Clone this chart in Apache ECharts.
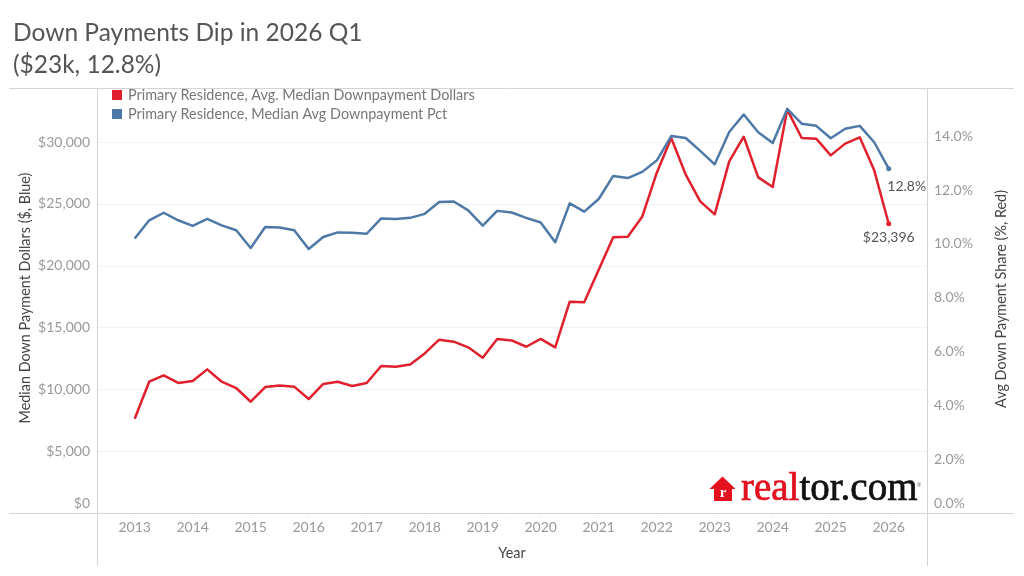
<!DOCTYPE html>
<html>
<head>
<meta charset="utf-8">
<style>html,body{margin:0;padding:0;background:#fff}#chart{width:1024px;height:576px}</style>
<script src="https://cdn.jsdelivr.net/npm/echarts@6/dist/echarts.min.js"></script>
</head>
<body>
<div id="chart"></div>
<script>
// Quarterly series, 2013 Q1 through 2026 Q1
const firstYear = 2013;
const tickYears = [2013, 2014, 2015, 2016, 2017, 2018, 2019, 2020, 2021, 2022, 2023, 2024, 2025, 2026];
const dollars = [
  7630, 10620, 11130, 10520,
  10680, 11620, 10620, 10110,
  9000, 10190, 10320, 10220,
  9220, 10440, 10620, 10270,
  10520, 11890, 11840, 12020,
  12910, 14020, 13860, 13400,
  12560, 14080, 13960, 13450,
  14080, 13400, 17090, 17040,
  19680, 22300, 22350, 23970,
  27510, 30340, 27370, 25210,
  24160, 28440, 30440, 27150,
  26370, 32630, 30340, 30280,
  28930, 29880, 30390, 27720,
  23396
];
const shares = [
  10.20, 10.88, 11.16, 10.88,
  10.67, 10.93, 10.69, 10.51,
  9.85, 10.63, 10.61, 10.51,
  9.81, 10.26, 10.43, 10.42,
  10.38, 10.95, 10.93, 10.97,
  11.12, 11.56, 11.58, 11.25,
  10.68, 11.23, 11.17, 10.97,
  10.80, 10.06, 11.51, 11.20,
  11.67, 12.53, 12.45, 12.68,
  13.10, 14.01, 13.94, 13.46,
  12.96, 14.16, 14.81, 14.15,
  13.75, 15.02, 14.47, 14.39,
  13.93, 14.28, 14.39, 13.78,
  12.8
];
const dollarsName = 'Primary Residence, Avg. Median Downpayment Dollars';
const sharesName = 'Primary Residence, Median Avg Downpayment Pct';
const titleText = 'Down Payments Dip in 2026 Q1\n($23k, 12.8%)';

const FONT = 'Lato';
const RED = '#e0202c';
const BLUE = '#4e79a7';
const TICK = '#999999';
const DARK = '#555555';
const AXIS_NAME = '#444444';
const FRAME = '#d4d4d4';
const LOGO_RED = '#e3101e';
const LOGO_INK = '#111111';

// Turns a series into [year position, value] pairs, marking and labelling its last point
function toPoints(values, color, labelText, labelOpts) {
  return values.map((v, i) => {
    const point = { value: [firstYear + i / 4, v] };
    if (i === values.length - 1) {
      point.symbol = 'circle';
      point.symbolSize = 5;
      point.label = Object.assign({
        show: true, formatter: labelText, color: DARK, fontFamily: FONT, fontSize: 14
      }, labelOpts);
    }
    return point;
  });
}

function lineSeries(name, color, yAxisIndex, data) {
  return {
    name, type: 'line', yAxisIndex, data, symbol: 'none', showSymbol: true, showAllSymbol: true,
    animation: false, silent: true,
    lineStyle: { color, width: 2.5, join: 'round' },
    itemStyle: { color }
  };
}

// The zero label sits clear above the baseline rule
const tickLabel = format => ({
  showMaxLabel: false, verticalAlignMinLabel: 'bottom', margin: 7,
  formatter: v => (v === 0 ? '{zero|' + format(v) + '}' : format(v)),
  rich: { zero: { fontFamily: FONT, fontSize: 14, color: TICK, padding: [0, 0, 3, 0] } },
  fontFamily: FONT, fontSize: 14, color: TICK
});

const valueAxisBase = {
  type: 'value', min: 0, nameLocation: 'middle', nameMoveOverlap: false,
  axisLine: { show: false }, axisTick: { show: false }
};

const frameLine = (x1, y1, x2, y2) => ({
  type: 'line', silent: true, z: 10,
  shape: { x1, y1, x2, y2 }, style: { stroke: FRAME, lineWidth: 1 }
});

const chart = echarts.init(document.getElementById('chart'), null, { renderer: 'canvas' });
chart.setOption({
  animation: false,
  backgroundColor: '#ffffff',
  title: {
    text: titleText, left: 8, top: 12,
    textStyle: { fontFamily: FONT, fontSize: 24.5, fontWeight: 400, color: '#555555', lineHeight: 32 }
  },
  legend: {
    orient: 'vertical', left: 107, top: 83, itemWidth: 10, itemHeight: 10, itemGap: 5,
    icon: 'rect', selectedMode: false,
    data: [dollarsName, sharesName],
    textStyle: { fontFamily: FONT, fontSize: 14.4, color: '#777777', padding: [0, 0, 0, 1] }
  },
  grid: { left: 97, top: 89, width: 830, height: 424, containLabel: false },
  xAxis: {
    type: 'value', min: 2012.35, max: 2026.66,
    name: 'Year', nameLocation: 'middle', nameGap: 33,
    nameTextStyle: { fontFamily: FONT, fontSize: 14.4, color: AXIS_NAME },
    axisLine: { show: false },
    axisTick: { show: true, length: 3, lineStyle: { color: '#eeeeee' }, customValues: tickYears },
    splitLine: { show: false },
    axisLabel: {
      customValues: tickYears, formatter: v => String(v), margin: 7,
      fontFamily: FONT, fontSize: 14, color: TICK
    }
  },
  yAxis: [
    Object.assign({}, valueAxisBase, {
      max: 34300, interval: 5000,
      name: 'Median Down Payment Dollars ($, Blue)', nameGap: 65,
      nameTextStyle: { fontFamily: FONT, fontSize: 14.4, color: AXIS_NAME, padding: [0, 0, 0, 6] },
      splitLine: { show: true, showMaxLine: false, lineStyle: { color: '#f2f2f2', width: 1 } },
      axisLabel: tickLabel(v => '$' + v.toLocaleString('en-US'))
    }),
    Object.assign({}, valueAxisBase, {
      max: 15.76, interval: 2,
      name: 'Avg Down Payment Share (%, Red)', nameGap: 67,
      nameRotate: 90,
      nameTextStyle: { fontFamily: FONT, fontSize: 14.4, color: AXIS_NAME, padding: [0, 0, 0, 4] },
      splitLine: { show: false },
      axisLabel: tickLabel(v => v.toFixed(1) + '%')
    })
  ],
  series: [
    lineSeries(dollarsName, RED, 0, toPoints(dollars, RED, '$23,396', { position: 'bottom', distance: 4 })),
    lineSeries(sharesName, BLUE, 1, toPoints(shares, BLUE, '12.8%', { position: 'bottom', distance: 8, offset: [18, 0] }))
  ],
  graphic: [
    frameLine(9, 88.5, 1014, 88.5),
    frameLine(9, 513.5, 1014, 513.5),
    frameLine(97.5, 88, 97.5, 566),
    frameLine(927.5, 88, 927.5, 566),
    // realtor.com wordmark: house mark, name, registered sign
    {
      type: 'polygon', silent: true, z: 11,
      shape: { points: [[722.5, 476.5], [735.5, 489], [732, 489], [732, 501], [714, 501], [714, 489], [709.5, 489]] },
      style: { fill: LOGO_RED }
    },
    {
      type: 'text', silent: true, z: 12, x: 723, y: 493,
      style: {
        text: 'r', fill: '#ffffff', align: 'center', verticalAlign: 'middle',
        font: 'bold 15px "Liberation Serif"'
      }
    },
    {
      type: 'text', silent: true, z: 11, x: 741, y: 490,
      style: {
        text: '{a|real}{b|tor.com}', verticalAlign: 'middle',
        rich: {
          a: { fill: LOGO_RED, stroke: LOGO_RED, lineWidth: 0.7, font: '39px "Liberation Serif"' },
          b: { fill: LOGO_INK, stroke: LOGO_INK, lineWidth: 0.7, font: '39px "Liberation Serif"' }
        }
      }
    },
    {
      type: 'text', silent: true, z: 11, x: 919, y: 485,
      style: {
        text: '®', fill: '#555555', align: 'center', verticalAlign: 'middle',
        font: '6px "Liberation Sans"'
      }
    }
  ]
});
</script>
</body>
</html>
